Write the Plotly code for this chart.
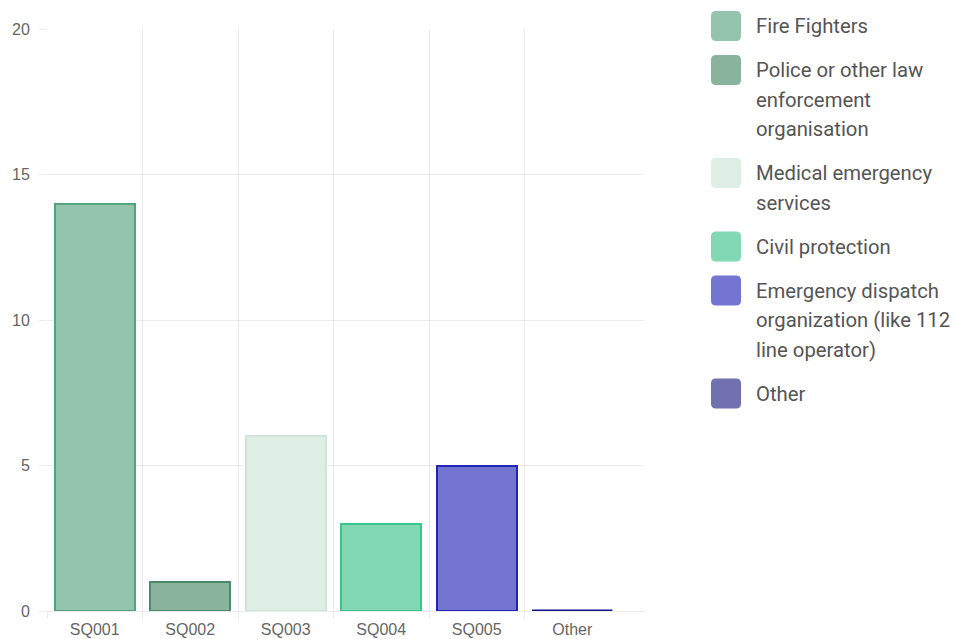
import plotly.graph_objects as go

# Survey answers per group
categories = ["SQ001", "SQ002", "SQ003", "SQ004", "SQ005", "Other"]
counts = [14, 1, 6, 3, 5, 0]
legend_labels = [
    "Fire Fighters",
    "Police or other law<br>enforcement<br>organisation",
    "Medical emergency<br>services",
    "Civil protection",
    "Emergency dispatch<br>organization (like 112<br>line operator)",
    "Other",
]
fill_colors = ["#94c4ad", "#8ab39e", "#deede6", "#82d8b4", "#7474d1", "#7171b0"]
border_colors = ["#52a47d", "#4b8a69", "#cfe5da", "#3cc48a", "#2323b5", "#151585"]
y_ticks = [0, 5, 10, 15, 20]

W, H = 956, 639
L, R, T, B = 47, 311, 29, 28
plot_w = W - L - R
plot_h = H - T - B
cat_px = 95.5
bar_w = 0.84
grid = "rgba(0,0,0,0.08)"

x_idx = list(range(len(categories)))
x_max = len(categories) - 0.5 + (plot_w - cat_px * len(categories)) / cat_px

fig = go.Figure()
for i, (cat, val) in enumerate(zip(categories, counts)):
    fig.add_trace(go.Bar(
        x=[i], y=[val], width=bar_w, name=cat,
        marker=dict(color=fill_colors[i], line=dict(color=border_colors[i], width=2)),
        hoverinfo="x+y", showlegend=False,
    ))
    if val == 0:
        # zero-height bar: draw its border as a flat stroke
        fig.add_trace(go.Scatter(
            x=[i - bar_w / 2, i + bar_w / 2], y=[val, val], mode="lines",
            line=dict(color=border_colors[i], width=3), cliponaxis=False,
            showlegend=False, hoverinfo="skip",
        ))


def px_x(p):
    return (p - L) / plot_w


def px_y(p):
    return (H - B - p) / plot_h


# Custom legend with rounded swatches
shapes = []
annotations = []
line_pitch = 29.5
cy = 26.0
for lab, col in zip(legend_labels, fill_colors):
    lines = lab.split("<br>")
    x0, x1 = px_x(711), px_x(741)
    y0, y1 = px_y(cy + 15), px_y(cy - 15)
    rx, ry = 5 / plot_w, 5 / plot_h
    path = (f"M{x0+rx},{y0} L{x1-rx},{y0} Q{x1},{y0} {x1},{y0+ry} "
            f"L{x1},{y1-ry} Q{x1},{y1} {x1-rx},{y1} L{x0+rx},{y1} "
            f"Q{x0},{y1} {x0},{y1-ry} L{x0},{y0+ry} Q{x0},{y0} {x0+rx},{y0} Z")
    shapes.append(dict(type="path", path=path, xref="paper", yref="paper",
                       fillcolor=col, line=dict(width=0), layer="above"))
    for k, txt in enumerate(lines):
        annotations.append(dict(
            text=txt, x=px_x(754), y=px_y(cy + k * line_pitch),
            xref="paper", yref="paper", xanchor="left", yanchor="middle",
            showarrow=False, font=dict(family="Roboto", size=20.3, color="#555555"),
        ))
    cy += len(lines) * line_pitch + 14.5

fig.update_layout(
    width=W, height=H,
    margin=dict(l=L, r=R, t=T, b=B, pad=0, autoexpand=False),
    paper_bgcolor="white", plot_bgcolor="white",
    barmode="overlay", bargap=0,
    shapes=shapes, annotations=annotations,
    showlegend=False,
    xaxis=dict(
        range=[-0.5, x_max], tickmode="array", tickvals=x_idx, ticktext=categories,
        showgrid=False, zeroline=False, showline=False, automargin=False,
        ticks="outside", ticklen=4, tickcolor="rgba(0,0,0,0)",
        tickfont=dict(family="Liberation Sans", size=16, color="#666666"),
        minor=dict(tickmode="array", tickvals=[i - 0.5 for i in x_idx],
                   showgrid=True, gridcolor=grid, gridwidth=1,
                   ticks="outside", ticklen=7, tickcolor=grid),
        fixedrange=True,
    ),
    yaxis=dict(
        range=[0, 20], tickmode="array", tickvals=y_ticks,
        showgrid=True, gridcolor=grid, gridwidth=1,
        zeroline=True, zerolinecolor=grid, zerolinewidth=1,
        showline=False, automargin=False,
        ticks="outside", ticklen=7, tickcolor=grid,
        ticklabelstandoff=6,
        tickfont=dict(family="Liberation Sans", size=16, color="#666666"),
        fixedrange=True,
    ),
)

fig.write_html("out.html", config={"displayModeBar": False})
